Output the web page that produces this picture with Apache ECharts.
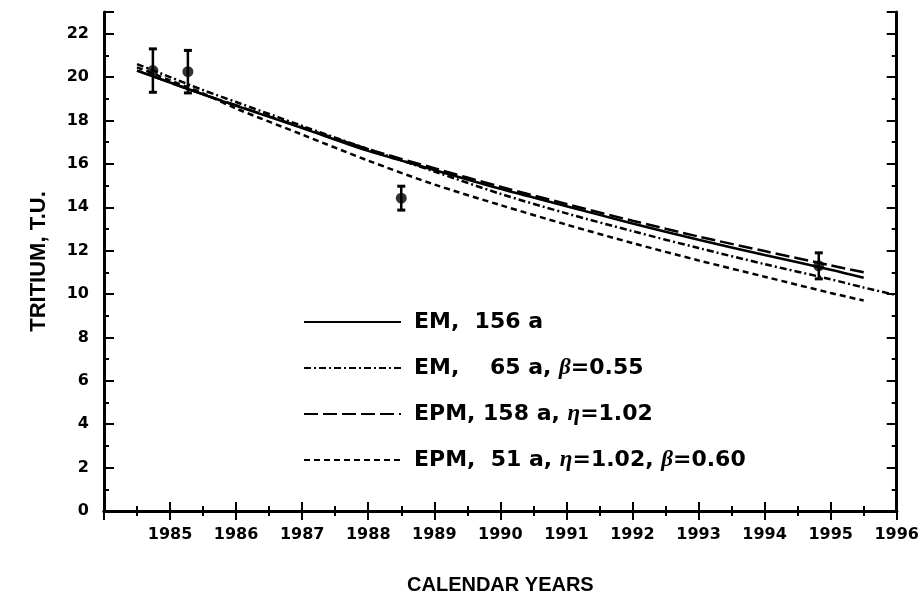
<!DOCTYPE html>
<html>
<head>
<meta charset="utf-8">
<title>Tritium model curves</title>
<script src="https://cdn.jsdelivr.net/npm/echarts@6/dist/echarts.min.js"></script>
<style>
  html, body { margin: 0; padding: 0; background: #fff; }
  #chart { width: 922px; height: 600px; }
</style>
</head>
<body>
<div id="chart"></div>
<script>
// Model curves: calendar year vs tritium (T.U.)
const lineYears = [1984.5, 1985, 1985.5, 1986, 1987, 1988, 1989, 1990, 1991, 1992, 1993, 1994, 1995, 1995.5];
const em156   = [20.3, 19.75, 19.2, 18.68, 17.65, 16.6, 15.72, 14.85, 14.05, 13.25, 12.5, 11.8, 11.12, 10.75];
const epm158  = [20.3, 19.75, 19.2, 18.7, 17.68, 16.68, 15.8, 14.95, 14.15, 13.38, 12.65, 11.98, 11.32, 11.0];
const em65Years = [1984.5, 1985, 1985.5, 1986, 1987, 1988, 1989, 1990, 1991, 1992, 1993, 1994, 1995, 1995.5, 1996];
const em65    = [20.6, 20.0, 19.4, 18.85, 17.75, 16.68, 15.65, 14.62, 13.72, 12.9, 12.12, 11.38, 10.68, 10.3, 9.95];
const epm51   = [20.45, 19.85, 19.25, 18.55, 17.35, 16.15, 15.05, 14.1, 13.2, 12.35, 11.55, 10.8, 10.05, 9.7];

// Measured tritium with uncertainty
const obsYears   = [1984.74, 1985.27, 1988.5, 1994.82];
const obsTritium = [20.3, 20.25, 14.42, 11.3];
const obsError   = [1.0, 0.98, 0.55, 0.6];

const seriesNames = ['EM156', 'EM65', 'EPM158', 'EPM51'];
const legendText = {
  EM156:  '{t|EM,  156 a}',
  EM65:   '{t|EM,    65 a, }{g|β}{t|=0.55}',
  EPM158: '{t|EPM, 158 a, }{g|η}{t|=1.02}',
  EPM51:  '{t|EPM,  51 a, }{g|η}{t|=1.02, }{g|β}{t|=0.60}'
};

const pairs = (xs, ys) => xs.map((x, i) => [x, ys[i]]);

const FONT = 'Liberation Sans';
const WIDE = 'DejaVu Sans';
const axisLineStyle = { color: '#000', width: 3 };

function xAxisDef(position, withLabels) {
  return {
    type: 'value', min: 1984, max: 1996, interval: 1, position: position,
    axisLine: { show: true, lineStyle: axisLineStyle },
    axisTick: { show: true, inside: true, length: 9, lineStyle: { color: '#000', width: 2 } },
    minorTick: { show: true, splitNumber: 2, length: 5, lineStyle: { color: '#000', width: 2 } },
    splitLine: { show: false },
    axisLabel: withLabels ? {
      show: true, interval: 0, margin: 16, color: '#000',
      fontFamily: WIDE, fontWeight: 'bold', fontSize: 16,
      formatter: v => (v === 1984 ? '' : String(v))
    } : { show: false },
    name: withLabels ? 'CALENDAR YEARS' : '',
    nameLocation: 'middle', nameGap: 64,
    nameTextStyle: { color: '#000', fontFamily: FONT, fontWeight: 'bold', fontSize: 20 }
  };
}

function yAxisDef(position, major, withLabels) {
  return {
    type: 'value', min: 0, max: 23, interval: major ? 2 : 1, position: position,
    axisLine: { show: !major, lineStyle: axisLineStyle },
    axisTick: { show: true, inside: true, length: major ? 10 : 5, lineStyle: { color: '#000', width: 2 } },
    splitLine: { show: false },
    axisLabel: withLabels ? {
      show: true, interval: 0, margin: 15, color: '#000',
      fontFamily: WIDE, fontWeight: 'bold', fontSize: 16,
      formatter: v => (v % 2 === 0 && v <= 22 ? String(v) : '')
    } : { show: false },
    name: withLabels ? 'TRITIUM, T.U.' : '',
    nameLocation: 'middle', nameGap: 54,
    nameTextStyle: { color: '#000', fontFamily: FONT, fontWeight: 'bold', fontSize: 22 }
  };
}

const lineBase = { type: 'line', symbol: 'none', smooth: 0.3, xAxisIndex: 0, yAxisIndex: 0, z: 3, color: '#000' };

const option = {
  backgroundColor: '#fff',
  animation: false,
  grid: { left: 104, right: 24, top: 12, bottom: 89 },
  xAxis: [xAxisDef('bottom', true), xAxisDef('top', false)],
  yAxis: [
    yAxisDef('left', false, true),
    yAxisDef('left', true, false),
    yAxisDef('right', false, false),
    yAxisDef('right', true, false)
  ],
  legend: {
    data: seriesNames,
    orient: 'vertical',
    left: 303, top: 309,
    padding: 0,
    itemWidth: 97, itemHeight: 14, itemGap: 20,
    selectedMode: false,
    itemStyle: { opacity: 0 },
    lineStyle: { width: 2, color: '#000' },
    formatter: name => legendText[name],
    textStyle: {
      color: '#000', fontFamily: WIDE, fontWeight: 'bold', fontSize: 22, lineHeight: 26,
      padding: [0, 0, 0, 8],
      rich: {
        t: { color: '#000', fontFamily: WIDE, fontWeight: 'bold', fontSize: 22, lineHeight: 26 },
        g: { color: '#000', fontFamily: 'Liberation Serif', fontStyle: 'italic', fontSize: 23, lineHeight: 26 }
      }
    }
  },
  series: [
    Object.assign({}, lineBase, {
      name: 'EM156', data: pairs(lineYears, em156),
      lineStyle: { color: '#000', width: 2.5, type: 'solid' }
    }),
    Object.assign({}, lineBase, {
      name: 'EM65', data: pairs(em65Years, em65),
      lineStyle: { color: '#000', width: 2.5, type: [7, 3, 2, 3] }
    }),
    Object.assign({}, lineBase, {
      name: 'EPM158', data: pairs(lineYears, epm158),
      lineStyle: { color: '#000', width: 2.5, type: [14, 5] }
    }),
    Object.assign({}, lineBase, {
      name: 'EPM51', data: pairs(lineYears, epm51),
      lineStyle: { color: '#000', width: 2.5, type: [6, 4] }
    }),
    {
      name: 'errors', type: 'custom', xAxisIndex: 0, yAxisIndex: 0, z: 4,
      data: obsYears.map((x, i) => [x, obsTritium[i], obsError[i]]),
      renderItem: function (params, api) {
        const x = api.value(0), y = api.value(1), e = api.value(2);
        const top = api.coord([x, y + e]);
        const bot = api.coord([x, y - e]);
        const cap = 4;
        return {
          type: 'group',
          children: [
            { type: 'line', shape: { x1: top[0], y1: top[1], x2: bot[0], y2: bot[1] }, style: { stroke: '#000', lineWidth: 2.5 } },
            { type: 'line', shape: { x1: top[0] - cap, y1: top[1], x2: top[0] + cap, y2: top[1] }, style: { stroke: '#000', lineWidth: 3 } },
            { type: 'line', shape: { x1: bot[0] - cap, y1: bot[1], x2: bot[0] + cap, y2: bot[1] }, style: { stroke: '#000', lineWidth: 3 } }
          ]
        };
      }
    },
    {
      name: 'measured', type: 'scatter', xAxisIndex: 0, yAxisIndex: 0, z: 5,
      symbol: 'circle', symbolSize: 11,
      itemStyle: { color: '#000' },
      data: pairs(obsYears, obsTritium)
    }
  ]
};

const chart = echarts.init(document.getElementById('chart'), null, { renderer: 'canvas' });
chart.setOption(option);
</script>
</body>
</html>
